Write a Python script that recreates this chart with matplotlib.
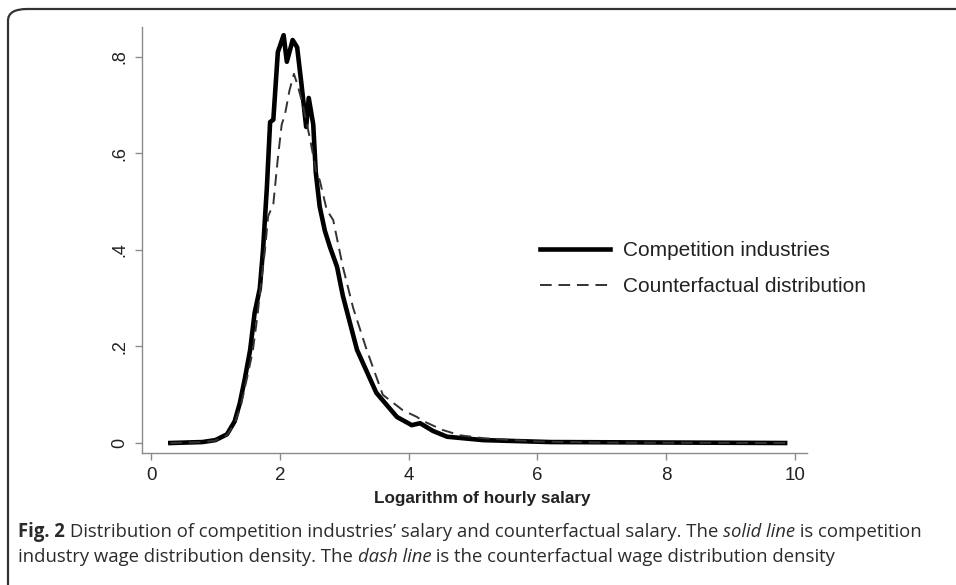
import matplotlib
matplotlib.use("Agg")
import matplotlib.pyplot as plt
from matplotlib.patches import FancyBboxPatch

# ---- data ----
solid_x = [0.30, 0.80, 1.00, 1.18, 1.30, 1.38, 1.46, 1.54, 1.61, 1.69, 1.74, 1.80,
           1.85, 1.90, 1.97, 2.06, 2.11, 2.20, 2.27, 2.34, 2.41, 2.45, 2.52, 2.56,
           2.62, 2.70, 2.78, 2.89, 2.98, 3.20, 3.50, 3.82, 4.05, 4.18, 4.38, 4.60,
           5.16, 6.20, 9.85]
solid_y = [0.000, 0.002, 0.006, 0.018, 0.045, 0.083, 0.135, 0.193, 0.270, 0.320, 0.400, 0.530,
           0.665, 0.670, 0.810, 0.845, 0.790, 0.835, 0.820, 0.740, 0.655, 0.715, 0.660, 0.560,
           0.490, 0.440, 0.406, 0.365, 0.305, 0.193, 0.104, 0.054, 0.037, 0.041, 0.025, 0.013,
           0.006, 0.002, 0.000]

dash_x = [0.30, 0.80, 1.00, 1.18, 1.30, 1.40, 1.50, 1.58, 1.65, 1.70, 1.77, 1.82,
          1.90, 1.97, 2.03, 2.08, 2.15, 2.22, 2.28, 2.36, 2.47, 2.57, 2.62, 2.73,
          2.83, 2.98, 3.14, 3.35, 3.60, 3.91, 4.13, 4.22, 4.53, 4.80, 5.16, 6.00,
          7.00, 9.85]
dash_y = [0.000, 0.002, 0.005, 0.016, 0.040, 0.080, 0.140, 0.190, 0.260, 0.320, 0.400, 0.470,
          0.495, 0.590, 0.660, 0.680, 0.730, 0.765, 0.740, 0.700, 0.630, 0.560, 0.545, 0.483,
          0.462, 0.365, 0.280, 0.193, 0.100, 0.068, 0.054, 0.046, 0.027, 0.016, 0.010, 0.003,
          0.001, 0.000]

x_ticks = [0, 2, 4, 6, 8, 10]
x_ticklabels = ["0", "2", "4", "6", "8", "10"]
y_ticks = [0, 0.2, 0.4, 0.6, 0.8]
y_ticklabels = ["0", ".2", ".4", ".6", ".8"]

label_solid = "Competition industries"
label_dash = "Counterfactual distribution"
x_label = "Logarithm of hourly salary"

caption_line1 = [("Fig. 2 ", "bold", "normal"),
                 ("Distribution of competition industries\u2019 salary and counterfactual salary. The ", "normal", "normal"),
                 ("solid line", "normal", "italic"),
                 (" is competition", "normal", "normal")]
caption_line2 = [("industry wage distribution density. The ", "normal", "normal"),
                 ("dash line", "normal", "italic"),
                 (" is the counterfactual wage distribution density", "normal", "normal")]

# ---- figure ----
W, H = 956, 585
fig = plt.figure(figsize=(W / 100, H / 100), dpi=100)
fig.patch.set_facecolor("white")

CH = ["Liberation Sans", "DejaVu Sans"]
txt_col = "#222222"
axis_col = "#8a8a8a"

# frame (only top and left visible, rounded top-left corner)
frame = FancyBboxPatch((8 / W, -0.1), 1.2, (H - 9) / H + 0.1,
                       boxstyle="round,pad=0,rounding_size=0.02",
                       transform=fig.transFigure, facecolor="none",
                       edgecolor="#333333", linewidth=1.6, clip_on=False)
fig.patches.append(frame)

ax = fig.add_axes([142 / W, 1 - 453 / H, (807 - 142) / W, (453 - 27) / H])
ax.set_xlim(-0.14, 10.19)
ax.set_ylim(-0.0207, 0.862)

ax.plot(solid_x, solid_y, color="black", lw=3.3, solid_joinstyle="round",
        label=label_solid)
ax.plot(dash_x, dash_y, color="#333333", lw=1.4, dashes=(6, 3.5),
        label=label_dash)

for s in ["top", "right"]:
    ax.spines[s].set_visible(False)
for s in ["left", "bottom"]:
    ax.spines[s].set_color(axis_col)
    ax.spines[s].set_linewidth(1.0)

ax.set_xticks(x_ticks)
ax.set_xticklabels(x_ticklabels, fontfamily=CH, fontsize=13.5, color=txt_col)
ax.set_yticks(y_ticks)
ax.set_yticklabels(y_ticklabels, fontfamily=CH, fontsize=13, color=txt_col,
                   rotation=90, va="center")
ax.tick_params(axis="both", direction="out", length=5, width=1.0, color=axis_col)
ax.tick_params(axis="x", pad=5)
ax.tick_params(axis="y", pad=5)

ax.set_xlabel(x_label, fontfamily=CH, fontsize=12.3, fontweight="bold",
              color=txt_col)
ax.xaxis.set_label_coords((482 - 142) / (807 - 142), -(498 - 453) / (453 - 27))
ax.xaxis.label.set_va("center")

leg = ax.legend(loc="upper left", bbox_to_anchor=(540 / W, 1 - 241 / H),
                bbox_transform=fig.transFigure, frameon=False,
                prop={"family": CH, "size": 15}, handlelength=3.37,
                handletextpad=0.6, labelspacing=0.82, borderpad=0,
                borderaxespad=0)
for t in leg.get_texts():
    t.set_color(txt_col)

# ---- caption ----
cap_font = ["Open Sans", "DejaVu Sans"]
cap_col = "#2b2b2b"
renderer = fig.canvas.get_renderer()


def draw_runs(runs, x0, y, size):
    x = x0
    for text, weight, style in runs:
        t = fig.text(x / W, 1 - y / H, text, fontfamily=cap_font, fontsize=size,
                     fontweight=weight, fontstyle=style, color=cap_col,
                     va="baseline", ha="left")
        bb = t.get_window_extent(renderer=renderer)
        x += bb.width
    return x


# fit first caption line to its width in the reference
size = 12.5
tmp_end = draw_runs(caption_line1, 18, -100, size)
scale = (928 - 18) / (tmp_end - 18)
for t in list(fig.texts):
    t.remove()
size = size * scale
draw_runs(caption_line1, 18, 537, size)
draw_runs(caption_line2, 18, 562, size)

fig.savefig("out.png", dpi=100, facecolor="white")
